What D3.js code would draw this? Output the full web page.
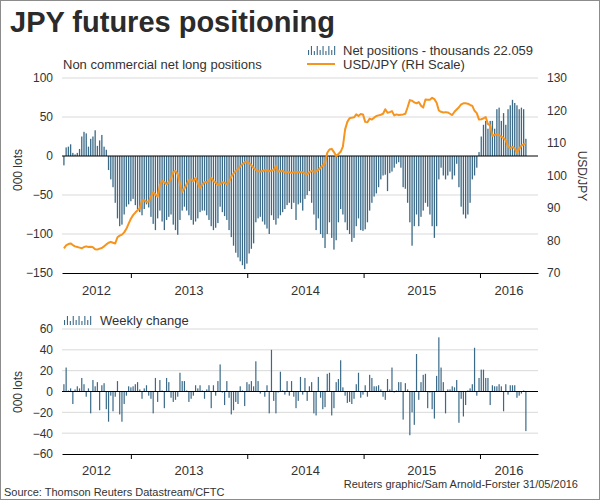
<!DOCTYPE html>
<html><head><meta charset="utf-8">
<script src="https://cdn.jsdelivr.net/npm/d3@7"></script>
<style>body{margin:0;background:#fff}svg text{font-family:"Liberation Sans",Arial,sans-serif;fill:#333}</style>
</head><body><svg id="c" width="600" height="500"></svg>
<script>
const startDate = "2012-06-05";
const netPositions = [
-12, 11, 12, 15, 4, 2, 4, 9, 25, 31,
29, 12, 22, 25, 33, 13, 20, 27, 12, 8,
-18, -30, -40, -60, -80, -90, -88, -75, -65, -62,
-58, -55, -63, -68, -72, -76, -68, -62, -66, -78,
-87, -95, -80, -70, -84, -95, -82, -78, -75, -88,
-95, -101, -82, -70, -65, -70, -76, -82, -88, -84,
-80, -72, -70, -70, -76, -82, -90, -95, -92, -86,
-65, -72, -77, -82, -95, -104, -115, -124, -130, -135,
-140, -145, -138, -125, -119, -112, -85, -80, -78, -84,
-88, -93, -100, -76, -82, -88, -80, -76, -72, -68,
-63, -60, -68, -60, -82, -62, -60, -70, -55, -50,
-45, -60, -75, -95, -80, -100, -105, -118, -100, -85,
-105, -120, -108, -85, -68, -75, -85, -95, -100, -110,
-105, -90, -80, -95, -96, -94, -85, -70, -60, -52,
-48, -40, -30, -25, -24, -45, -22, -20, -15, -10,
-8, -15, -40, -42, -60, -85, -115, -90, -75, -90,
-78, -70, -60, -65, -75, -90, -105, -90, -30, -15,
-25, -30, -25, -20, -30, -25, -10, -40, -65, -75,
-80, -75, -60, -30, -25, -15, 5, 25, 40, 45,
35, 45, 45, 35, 60, 62, 45, 55, 40, 60,
65, 72, 68, 65, 60, 62, 60, 22.059];
const usdJpy = [
77.6, 78.5, 78.9, 79.1, 78.6, 78.2, 78.0, 77.8, 77.6, 78.0,
78.2, 78.0, 78.1, 77.9, 77.3, 77.2, 77.5, 77.7, 78.2, 78.8,
79.3, 79.6, 79.3, 79.1, 81.0, 81.5, 81.8, 82.5, 83.6, 85.2,
86.7, 87.8, 88.6, 89.3, 89.9, 92.3, 92.4, 91.9, 92.0, 93.4,
94.8, 94.2, 93.5, 97.0, 98.3, 98.0, 97.3, 97.9, 99.0, 101.0,
101.4, 100.4, 97.4, 95.0, 96.0, 97.3, 98.6, 98.8, 98.2, 99.3,
97.6, 96.2, 97.2, 98.0, 97.9, 98.4, 99.3, 98.3, 97.8, 97.1,
97.3, 97.9, 97.8, 97.3, 98.1, 99.6, 100.6, 101.4, 101.9, 102.8,
103.5, 104.1, 104.3, 103.8, 103.2, 102.3, 101.7, 101.3, 101.2, 101.4,
101.6, 101.7, 101.3, 101.5, 101.7, 102.9, 101.2, 101.3, 101.4, 101.0,
101.1, 101.0, 100.8, 101.0, 101.1, 101.0, 101.1, 101.0, 100.6, 100.4,
101.0, 101.4, 101.1, 101.3, 101.7, 102.4, 103.1, 103.8, 107.0, 108.0,
108.2, 107.2, 106.0, 106.6, 107.3, 108.9, 114.2, 116.5, 117.6, 117.8,
117.9, 118.8, 118.3, 118.9, 118.8, 116.5, 116.4, 117.5, 117.2, 117.8,
118.3, 118.5, 118.7, 119.0, 120.4, 119.3, 119.5, 119.8, 118.5, 118.8,
118.6, 118.7, 118.8, 119.0, 121.0, 123.2, 123.0, 122.5, 122.2, 122.6,
121.5, 120.9, 123.4, 123.3, 123.3, 123.9, 123.5, 122.4, 120.0, 119.6,
119.4, 119.5, 119.4, 119.0, 118.6, 119.6, 120.3, 121.0, 121.9, 122.2,
122.2, 122.1, 121.7, 121.4, 119.9, 119.2, 117.2, 117.3, 117.6, 118.0,
115.8, 115.4, 112.2, 112.5, 112.7, 112.4, 112.0, 111.5, 110.8, 108.9,
108.4, 108.8, 108.3, 107.0, 108.2, 109.2, 109.6, 110.0];
const weeklyChange = [
7, 23, 1, 3, -12, 2, 5, 3, 13, 7,
-5, 3, -21, 11, 5, 9, -18, 6, 8, -17,
-29, -4, -19, -5, 10, -22, -29, -12, -4, 5,
4, 5, 7, 9, 2, -7, 3, 6, -4, -7,
-21, 13, -10, 11, 1, -16, 13, 9, -6, -10,
-8, -5, 18, 10, 10, 1, -10, -7, -4, 6,
3, 6, 1, -7, 2, 6, -16, 6, -4, 10,
26, -1, -13, 10, -6, -22, -18, -10, -12, 5,
1, -14, 9, 7, 10, 5, 29, 10, -2, 0,
-5, 6, -21, 40, -9, -21, -1, 19, 1, -3,
10, -4, 10, -5, -16, -9, 14, -3, 13, -9,
5, 9, -21, -23, 14, -6, -17, -15, 17, 18,
-23, -16, 9, 12, 30, 4, -4, -11, -10, -12,
-7, 7, 18, -6, -3, 6, -5, 16, 13, 5,
5, 6, 2, -5, -8, 12, 2, 23, -1, 1,
9, 9, -27, 8, 2, -42, -20, -32, 36, -8,
9, 16, 17, -16, -1, -17, -26, 15, 52, 23,
9, -21, 2, 2, 5, 4, 11, -30, -7, -24,
-13, 1, 3, 7, 42, -4, 13, 21, 21, 13,
13, -13, 6, 5, 5, 7, 5, -19, 7, -3,
6, 6, 6, -6, -4, -2, 1, -38];
const yearLabels = ["2012", "2013", "2014", "2015", "2016"];
const topLeftTicks = [100, 50, 0, -50, -100, -150];
const topRightTicks = [70, 80, 90, 100, 110, 120, 130];
const bottomTicks = [60, 40, 20, 0, -20, -40, -60];

const BAR = "#3b6a88", ORANGE = "#f7941d", GRID = "#d9d9d9";
const svg = d3.select("#c");
const t0 = d3.timeParse("%Y-%m-%d")(startDate);
const dates = netPositions.map((d, i) => d3.timeDay.offset(t0, i * 7));

svg.append("rect").attr("x", 0.5).attr("y", 0.5).attr("width", 599).attr("height", 499)
  .attr("fill", "#fff").attr("stroke", "#8c8c8c");

svg.append("text").attr("x", 10).attr("y", 32).attr("font-size", 29).attr("font-weight", "bold")
  .style("fill", "#2b2b2b").text("JPY futures positioning");

const x = d3.scaleTime().domain([new Date(2012, 4, 30), new Date(2016, 6, 1)]).range([62, 538]);
const yearStarts = yearLabels.map(y => new Date(+y, 0, 1));

function xAxis(g, yPos, labelY) {
  const ax = g.append("g").attr("transform", `translate(0,${yPos})`)
    .call(d3.axisBottom(x).tickValues(yearStarts.filter(d => x(d) > 62)).tickSize(5).tickSizeOuter(0).tickFormat(""));
  ax.select(".domain").attr("stroke", "#000");
  ax.selectAll(".tick line").attr("stroke", "#000");
  yearLabels.forEach((yl, i) => {
    const a = Math.max(x(new Date(+yl, 0, 1)), 62);
    const b = Math.min(x(new Date(+yl + 1, 0, 1)), 538);
    g.append("text").attr("x", (a + b) / 2).attr("y", labelY).attr("text-anchor", "middle")
      .attr("font-size", 13).text(yl);
  });
}

// ---------- top panel ----------
const yL = d3.scaleLinear().domain([-150, 100]).range([273, 78]);
const yR = d3.scaleLinear().domain([70, 130]).range([273, 78]);
const topG = svg.append("g");
topG.selectAll("line.grid").data(topLeftTicks.filter(v => v !== 0 && v !== -150)).join("line")
  .attr("x1", 62).attr("x2", 538).attr("y1", d => yL(d)).attr("y2", d => yL(d)).attr("stroke", GRID);
topG.append("g").selectAll("rect").data(netPositions).join("rect")
  .attr("x", (d, i) => x(dates[i]) - 0.65).attr("width", 1.3)
  .attr("y", d => Math.min(yL(d), yL(0))).attr("height", d => Math.abs(yL(d) - yL(0)))
  .attr("fill", BAR);
topG.append("line").attr("x1", 62).attr("x2", 538).attr("y1", yL(0)).attr("y2", yL(0)).attr("stroke", "#000");
topG.append("path").datum(usdJpy)
  .attr("d", d3.line().x((d, i) => x(dates[i])).y(d => yR(d)))
  .attr("fill", "none").attr("stroke", ORANGE).attr("stroke-width", 2).attr("stroke-linejoin", "round");
const la = topG.append("g").attr("transform", "translate(53,0)")
  .call(d3.axisLeft(yL).tickValues(topLeftTicks).tickSize(0).tickPadding(0));
la.select(".domain").remove();
la.selectAll("text").attr("font-size", 12).style("fill", "#333").attr("font-family", null);
const ra = topG.append("g").attr("transform", "translate(547,0)")
  .call(d3.axisRight(yR).tickValues(topRightTicks).tickSize(0).tickPadding(0));
ra.select(".domain").remove();
ra.selectAll("text").attr("font-size", 12).style("fill", "#333").attr("font-family", null);
xAxis(topG, 273, 295);
topG.append("text").attr("transform", "translate(22,170) rotate(-90)").attr("text-anchor", "middle")
  .attr("font-size", 12).text("000 lots");
topG.append("text").attr("transform", "translate(578,176) rotate(90)").attr("text-anchor", "middle")
  .attr("font-size", 12).text("USD/JPY");
topG.append("text").attr("x", 63).attr("y", 69).attr("font-size", 13).text("Non commercial net long positions");

function barIcon(g, x0, yb) {
  const hs = [5, 9, 4, 9, 5, 9, 4, 9, 5, 9];
  hs.forEach((h, i) => g.append("rect").attr("x", x0 + i * 2.9).attr("y", yb - h).attr("width", 1.1)
    .attr("height", h).attr("fill", BAR));
}
barIcon(topG, 308, 55);
topG.append("text").attr("x", 343).attr("y", 55).attr("font-size", 13).text("Net positions - thousands 22.059");
topG.append("line").attr("x1", 307).attr("x2", 335).attr("y1", 64).attr("y2", 64).attr("stroke", ORANGE).attr("stroke-width", 2);
topG.append("text").attr("x", 343).attr("y", 69).attr("font-size", 13).text("USD/JPY (RH Scale)");

// ---------- bottom panel ----------
const yB = d3.scaleLinear().domain([-60, 60]).range([454, 329]);
const botG = svg.append("g");
botG.selectAll("line.grid").data(bottomTicks.filter(v => v !== 0 && v !== -60)).join("line")
  .attr("x1", 62).attr("x2", 538).attr("y1", d => yB(d)).attr("y2", d => yB(d)).attr("stroke", GRID);
botG.append("g").selectAll("rect").data(weeklyChange).join("rect")
  .attr("x", (d, i) => x(dates[i]) - 0.6).attr("width", 1.2)
  .attr("y", d => Math.min(yB(d), yB(0))).attr("height", d => Math.abs(yB(d) - yB(0)))
  .attr("fill", BAR);
botG.append("line").attr("x1", 62).attr("x2", 538).attr("y1", yB(0)).attr("y2", yB(0)).attr("stroke", "#000");
const lb = botG.append("g").attr("transform", "translate(53,0)")
  .call(d3.axisLeft(yB).tickValues(bottomTicks).tickSize(0).tickPadding(0));
lb.select(".domain").remove();
lb.selectAll("text").attr("font-size", 12).style("fill", "#333").attr("font-family", null);
xAxis(botG, 454, 475);
botG.append("text").attr("transform", "translate(22,392) rotate(-90)").attr("text-anchor", "middle")
  .attr("font-size", 12).text("000 lots");
barIcon(botG, 64, 325);
botG.append("text").attr("x", 100).attr("y", 325).attr("font-size", 13).text("Weekly change");

svg.append("text").attr("x", 4).attr("y", 496).attr("font-size", 11).text("Source: Thomson Reuters Datastream/CFTC");
svg.append("text").attr("x", 578).attr("y", 488).attr("text-anchor", "end").attr("font-size", 11)
  .text("Reuters graphic/Sam Arnold-Forster 31/05/2016");
</script></body></html>
